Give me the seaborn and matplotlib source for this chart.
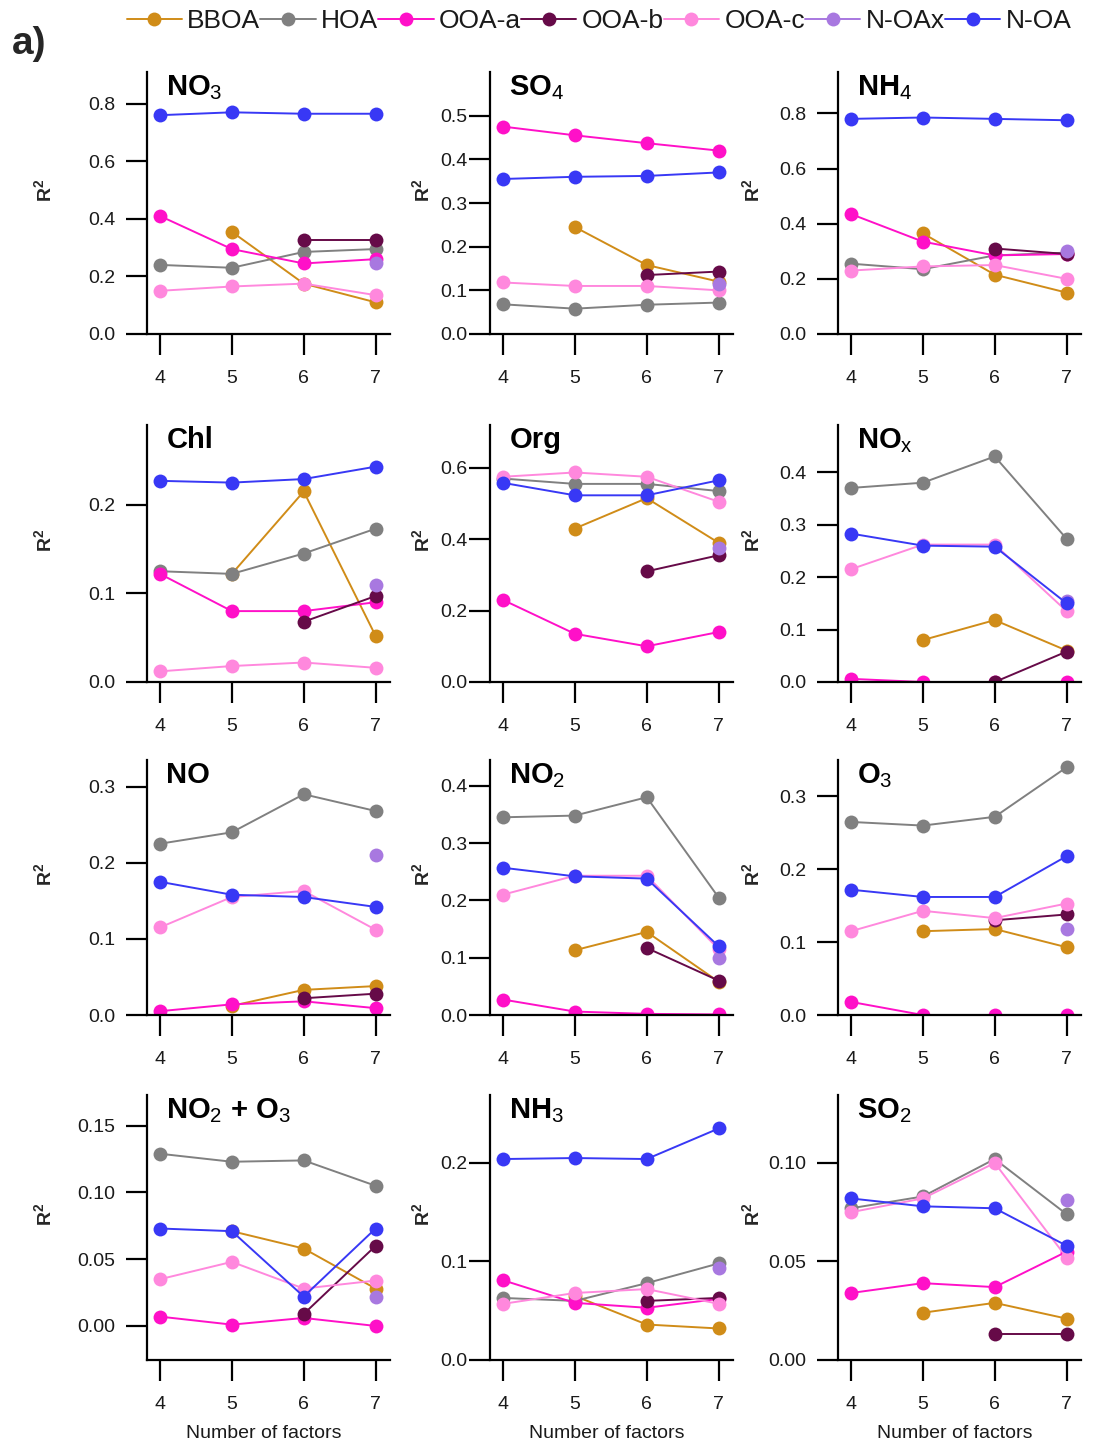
import numpy as np
import pandas as pd
import matplotlib
matplotlib.use("Agg")
import matplotlib.pyplot as plt
from matplotlib.lines import Line2D
import seaborn as sns

nan = np.nan
factors = [4, 5, 6, 7]
series = ["BBOA", "HOA", "OOA-a", "OOA-b", "OOA-c", "N-OAx", "N-OA"]
colors = ["#D08C18", "#808080", "#FF10C8", "#660A48", "#FF88DD", "#A878E0", "#3838F5"]

# R^2 values per panel, order of series as above, x = 4,5,6,7
no3 = {"BBOA": [nan, 0.355, 0.175, 0.110], "HOA": [0.240, 0.230, 0.285, 0.295],
       "OOA-a": [0.410, 0.295, 0.245, 0.260], "OOA-b": [nan, nan, 0.325, 0.325],
       "OOA-c": [0.150, 0.165, 0.175, 0.135], "N-OAx": [nan, nan, nan, 0.245],
       "N-OA": [0.760, 0.770, 0.765, 0.765]}
so4 = {"BBOA": [nan, 0.245, 0.158, 0.120], "HOA": [0.068, 0.058, 0.067, 0.072],
       "OOA-a": [0.475, 0.455, 0.437, 0.420], "OOA-b": [nan, nan, 0.135, 0.143],
       "OOA-c": [0.118, 0.110, 0.110, 0.100], "N-OAx": [nan, nan, nan, 0.115],
       "N-OA": [0.355, 0.360, 0.362, 0.370]}
nh4 = {"BBOA": [nan, 0.365, 0.215, 0.150], "HOA": [0.255, 0.235, 0.285, 0.295],
       "OOA-a": [0.435, 0.335, 0.285, 0.290], "OOA-b": [nan, nan, 0.310, 0.290],
       "OOA-c": [0.230, 0.245, 0.250, 0.200], "N-OAx": [nan, nan, nan, 0.300],
       "N-OA": [0.780, 0.785, 0.780, 0.775]}
chl = {"BBOA": [nan, 0.122, 0.215, 0.052], "HOA": [0.125, 0.122, 0.145, 0.173],
       "OOA-a": [0.122, 0.080, 0.080, 0.090], "OOA-b": [nan, nan, 0.068, 0.097],
       "OOA-c": [0.012, 0.018, 0.022, 0.016], "N-OAx": [nan, nan, nan, 0.110],
       "N-OA": [0.227, 0.225, 0.229, 0.243]}
org = {"BBOA": [nan, 0.430, 0.515, 0.390], "HOA": [0.570, 0.555, 0.555, 0.535],
       "OOA-a": [0.230, 0.135, 0.100, 0.140], "OOA-b": [nan, nan, 0.310, 0.355],
       "OOA-c": [0.575, 0.587, 0.575, 0.505], "N-OAx": [nan, nan, nan, 0.375],
       "N-OA": [0.558, 0.523, 0.523, 0.565]}
nox = {"BBOA": [nan, 0.080, 0.118, 0.060], "HOA": [0.370, 0.380, 0.430, 0.273],
       "OOA-a": [0.006, 0.000, 0.000, 0.000], "OOA-b": [nan, nan, 0.000, 0.058],
       "OOA-c": [0.215, 0.262, 0.262, 0.135], "N-OAx": [nan, nan, nan, 0.155],
       "N-OA": [0.283, 0.260, 0.258, 0.150]}
no = {"BBOA": [nan, 0.012, 0.033, 0.038], "HOA": [0.225, 0.240, 0.290, 0.268],
      "OOA-a": [0.005, 0.014, 0.018, 0.009], "OOA-b": [nan, nan, 0.022, 0.028],
      "OOA-c": [0.115, 0.155, 0.163, 0.112], "N-OAx": [nan, nan, nan, 0.210],
      "N-OA": [0.175, 0.158, 0.155, 0.142]}
no2 = {"BBOA": [nan, 0.113, 0.145, 0.058], "HOA": [0.345, 0.348, 0.380, 0.205],
       "OOA-a": [0.027, 0.006, 0.002, 0.001], "OOA-b": [nan, nan, 0.117, 0.060],
       "OOA-c": [0.210, 0.243, 0.243, 0.115], "N-OAx": [nan, nan, nan, 0.100],
       "N-OA": [0.257, 0.242, 0.238, 0.120]}
o3 = {"BBOA": [nan, 0.115, 0.118, 0.093], "HOA": [0.265, 0.260, 0.272, 0.340],
      "OOA-a": [0.018, 0.000, 0.000, 0.000], "OOA-b": [nan, nan, 0.130, 0.138],
      "OOA-c": [0.115, 0.143, 0.133, 0.153], "N-OAx": [nan, nan, nan, 0.118],
      "N-OA": [0.172, 0.162, 0.162, 0.218]}
no2o3 = {"BBOA": [nan, 0.071, 0.058, 0.028], "HOA": [0.129, 0.123, 0.124, 0.105],
         "OOA-a": [0.007, 0.001, 0.006, 0.000], "OOA-b": [nan, nan, 0.009, 0.060],
         "OOA-c": [0.035, 0.048, 0.028, 0.034], "N-OAx": [nan, nan, nan, 0.022],
         "N-OA": [0.073, 0.071, 0.022, 0.073]}
nh3 = {"BBOA": [nan, 0.065, 0.036, 0.032], "HOA": [0.063, 0.060, 0.078, 0.098],
       "OOA-a": [0.081, 0.058, 0.053, 0.062], "OOA-b": [nan, nan, 0.060, 0.063],
       "OOA-c": [0.057, 0.068, 0.072, 0.057], "N-OAx": [nan, nan, nan, 0.093],
       "N-OA": [0.204, 0.205, 0.204, 0.235]}
so2 = {"BBOA": [nan, 0.024, 0.029, 0.021], "HOA": [0.077, 0.083, 0.102, 0.074],
       "OOA-a": [0.034, 0.039, 0.037, 0.055], "OOA-b": [nan, nan, 0.013, 0.013],
       "OOA-c": [0.075, 0.082, 0.100, 0.052], "N-OAx": [nan, nan, nan, 0.081],
       "N-OA": [0.082, 0.078, 0.077, 0.058]}

panel_titles = ["NO$_3$", "SO$_4$", "NH$_4$", "Chl", "Org", "NO$_\\mathrm{x}$",
                "NO", "NO$_2$", "O$_3$", "NO$_2$ + O$_3$", "NH$_3$", "SO$_2$"]
panel_data = [no3, so4, nh4, chl, org, nox, no, no2, o3, no2o3, nh3, so2]
panel_ylims = [(0, 0.91), (0, 0.60), (0, 0.95), (0, 0.29), (0, 0.72), (0, 0.49),
               (0, 0.335), (0, 0.445), (0, 0.35), (-0.0255, 0.173), (0, 0.269), (0, 0.1345)]
panel_yticks = [[0, 0.2, 0.4, 0.6, 0.8], [0, 0.1, 0.2, 0.3, 0.4, 0.5], [0, 0.2, 0.4, 0.6, 0.8],
                [0, 0.1, 0.2], [0, 0.2, 0.4, 0.6], [0, 0.1, 0.2, 0.3, 0.4],
                [0, 0.1, 0.2, 0.3], [0, 0.1, 0.2, 0.3, 0.4], [0, 0.1, 0.2, 0.3],
                [0, 0.05, 0.10, 0.15], [0, 0.1, 0.2], [0, 0.05, 0.10]]
panel_yfmt = ["%.1f"] * 9 + ["%.2f", "%.1f", "%.2f"]

sns.set_theme(style="ticks")
plt.rcParams["font.family"] = ["Liberation Sans", "DejaVu Sans"]
plt.rcParams["mathtext.fontset"] = "custom"
plt.rcParams["mathtext.rm"] = "Liberation Sans"
plt.rcParams["mathtext.bf"] = "Liberation Sans:bold"
plt.rcParams["mathtext.it"] = "Liberation Sans:italic"

W, H = 1094, 1445
fig = plt.figure(figsize=(W / 100, H / 100), dpi=100)
palette = dict(zip(series, colors))

col_left = [147, 490, 838]
col_w = 243
row_top = [72, 425, 760, 1095]
row_bot = [334, 682, 1015, 1360]
ylab_x = [-0.38, -0.235, -0.31]
ytick_pad = [8, 1.5, 8]
txt_color = "#1a1a1a"

for i, (title, d) in enumerate(zip(panel_titles, panel_data)):
    r, c = divmod(i, 3)
    ax = fig.add_axes([col_left[c] / W, 1 - row_bot[r] / H, col_w / W,
                       (row_bot[r] - row_top[r]) / H])
    rows = []
    for s in series:
        for x, v in zip(factors, d[s]):
            rows.append({"factors": x, "R2": v, "series": s})
    df = pd.DataFrame(rows).dropna()
    sns.lineplot(data=df, x="factors", y="R2", hue="series", hue_order=series,
                 palette=palette, marker="o", markersize=10, markeredgewidth=0,
                 linewidth=1.4, legend=False, ax=ax, estimator=None, sort=True)
    ax.set_xlim(3.82, 7.2)
    ax.set_ylim(*panel_ylims[i])
    ax.set_xticks(factors)
    ax.set_yticks(panel_yticks[i])
    ax.set_yticklabels([panel_yfmt[i] % t for t in panel_yticks[i]])
    for sp in ["top", "right"]:
        ax.spines[sp].set_visible(False)
    for sp in ["left", "bottom"]:
        ax.spines[sp].set_linewidth(1.6)
        ax.spines[sp].set_color("black")
    ax.tick_params(axis="both", direction="out", length=15, width=1.6,
                   labelsize=14, colors="black", labelcolor=txt_color)
    ax.tick_params(axis="y", pad=ytick_pad[c])
    ax.tick_params(axis="x", pad=11)
    ax.set_ylabel("R$^\\mathbf{2}$", fontsize=14, fontweight="bold")
    ax.yaxis.set_label_coords(ylab_x[c], 0.55)
    if r == 3:
        ax.set_xlabel("Number of factors", fontsize=14, color=txt_color)
        ax.xaxis.set_label_coords(0.48, -0.245)
    else:
        ax.set_xlabel("")
    ax.text(0.08, 0.995, title, transform=ax.transAxes, fontsize=21,
            fontweight="bold", va="top", ha="left", color="black")
    ax.set_facecolor("white")

handles = [Line2D([0], [0], color=palette[s], marker="o", markersize=10,
                  markeredgewidth=0, linewidth=1.4) for s in series]
fig.legend(handles, series, loc="center", bbox_to_anchor=(599 / W, 1 - 21 / H),
           ncol=7, frameon=False, fontsize=19, handlelength=2.1,
           handletextpad=0.2, columnspacing=0.0, borderaxespad=0,
           labelcolor=txt_color)
fig.text(12 / W, 1 - 44 / H, "a)", fontsize=28, fontweight="bold",
         ha="left", va="center")

fig.savefig("out.png", dpi=100, facecolor="white")
